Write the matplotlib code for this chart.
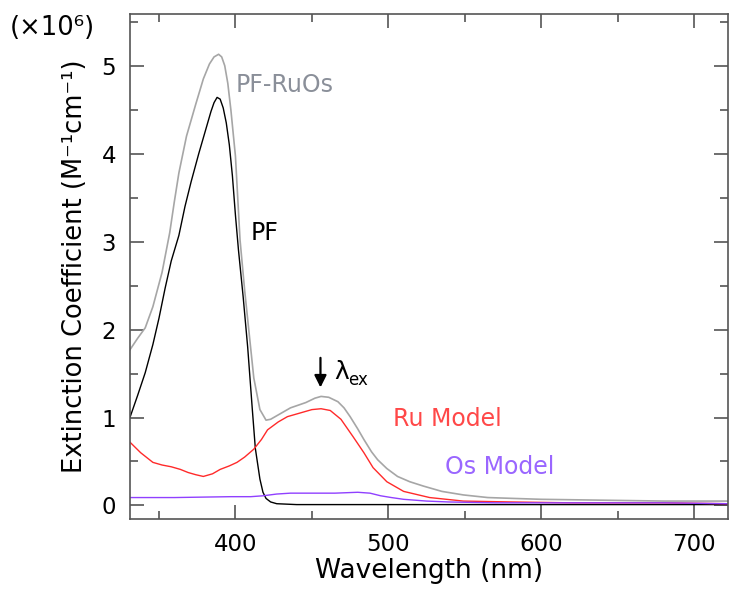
import matplotlib
matplotlib.use("Agg")
import matplotlib.pyplot as plt
from matplotlib.ticker import MultipleLocator

# wavelength (nm) / extinction coefficient (x10^6 M^-1 cm^-1)
wl_ruos = [331, 336, 341, 346, 352, 357, 360, 363, 368, 374, 379, 383, 386, 389, 391, 393,
           395, 397, 400, 403, 406, 409, 412, 416, 420, 423, 426, 431, 436, 446, 452, 456,
           461, 467, 471, 475, 480, 484, 489, 493, 499, 506, 514, 523, 535, 549, 565, 582,
           600, 640, 680, 722]
ext_ruos = [1.77, 1.9, 2.02, 2.26, 2.65, 3.1, 3.45, 3.78, 4.2, 4.56, 4.85, 5.02, 5.1, 5.13,
            5.1, 5.0, 4.8, 4.5, 3.97, 3.02, 2.45, 1.95, 1.45, 1.09, 0.97, 0.98, 1.01, 1.06,
            1.11, 1.17, 1.22, 1.24, 1.23, 1.18, 1.11, 1.01, 0.87, 0.75, 0.61, 0.52, 0.42,
            0.33, 0.27, 0.22, 0.16, 0.12, 0.09, 0.08, 0.07, 0.06, 0.05, 0.05]

wl_pf = [331, 336, 341, 346, 350, 354, 358, 363, 367, 371, 376, 380, 384, 386, 388, 390,
         392, 394, 396, 398, 400, 402, 405, 408, 411, 413, 416, 418, 420, 423, 427, 440,
         480, 540, 620, 680, 722]
ext_pf = [1.0, 1.25, 1.51, 1.83, 2.13, 2.47, 2.78, 3.07, 3.4, 3.68, 4.0, 4.24, 4.48, 4.58,
          4.64, 4.62, 4.52, 4.35, 4.1, 3.75, 3.3, 2.9, 2.38, 1.8, 1.1, 0.65, 0.3, 0.15,
          0.08, 0.04, 0.02, 0.01, 0.01, 0.01, 0.01, 0.01, 0.01]

wl_ru = [331, 338, 346, 352, 358, 364, 369, 374, 379, 385, 390, 396, 401, 406, 412, 417,
         421, 428, 434, 442, 450, 456, 462, 469, 477, 484, 490, 499, 510, 527, 549, 580,
         620, 680, 722]
ext_ru = [0.72, 0.6, 0.49, 0.46, 0.44, 0.41, 0.375, 0.35, 0.33, 0.36, 0.41, 0.45, 0.49,
          0.55, 0.64, 0.75, 0.86, 0.95, 1.01, 1.05, 1.09, 1.1, 1.08, 0.98, 0.78, 0.6, 0.43,
          0.27, 0.16, 0.09, 0.05, 0.04, 0.03, 0.03, 0.02]

wl_os = [331, 360, 397, 410, 418, 427, 436, 450, 465, 480, 488, 495, 502, 510, 525, 539,
         570, 620, 680, 722]
ext_os = [0.09, 0.09, 0.1, 0.1, 0.11, 0.13, 0.14, 0.14, 0.14, 0.15, 0.14, 0.11, 0.09,
          0.07, 0.05, 0.04, 0.03, 0.03, 0.03, 0.02]

plt.rcParams['font.family'] = ['DejaVu Sans']
fig = plt.figure(figsize=(7.3, 6.01), dpi=100)
ax = fig.add_axes([0.178, 0.137, 0.819, 0.84])

ax.plot(wl_ruos, ext_ruos, color='#a6a6a6', lw=1.2)
ax.plot(wl_pf, ext_pf, color='black', lw=1.0)
ax.plot(wl_ru, ext_ru, color='#ff2a2a', lw=1.0)
ax.plot(wl_os, ext_os, color='#9040ff', lw=1.0)

ax.set_xlim(331, 722)
ax.set_ylim(-0.15, 5.59)
ax.xaxis.set_major_locator(MultipleLocator(100))
ax.xaxis.set_minor_locator(MultipleLocator(50))
ax.yaxis.set_major_locator(MultipleLocator(1))
ax.yaxis.set_minor_locator(MultipleLocator(0.5))
ax.tick_params(which='both', direction='in', top=True, right=True, labelsize=16.5,
               color='#555555', width=1.2, pad=10)
ax.tick_params(which='major', length=10)
ax.tick_params(which='minor', length=6)
for s in ax.spines.values():
    s.set_color('#555555')
    s.set_linewidth(1.2)

ax.set_xlabel('Wavelength (nm)', fontsize=19, labelpad=2)
ax.set_ylabel('Extinction Coefficient (M⁻¹cm⁻¹)', fontsize=18.5, labelpad=10)
fig.text(0.014, 0.953, '(×10⁶)', fontsize=18.5, va='center')

ax.text(432, 4.78, 'PF-RuOs', color='#8a8f99', fontsize=17, ha='center', va='center')
ax.text(419, 3.10, 'PF', color='black', fontsize=17, ha='center', va='center')
ax.text(538.6, 0.98, 'Ru Model', color='#ff4848', fontsize=17, ha='center', va='center')
ax.text(573, 0.44, 'Os Model', color='#9a66ff', fontsize=17, ha='center', va='center')
ax.annotate('', xy=(455.6, 1.31), xytext=(455.6, 1.71),
            arrowprops=dict(arrowstyle='-|>', color='black', lw=1.6, mutation_scale=18))
ax.text(464.7, 1.52, 'λ', fontsize=18, ha='left', va='center')
ax.text(474, 1.43, 'ex', fontsize=12, ha='left', va='center')

fig.savefig('out.png', dpi=100)
